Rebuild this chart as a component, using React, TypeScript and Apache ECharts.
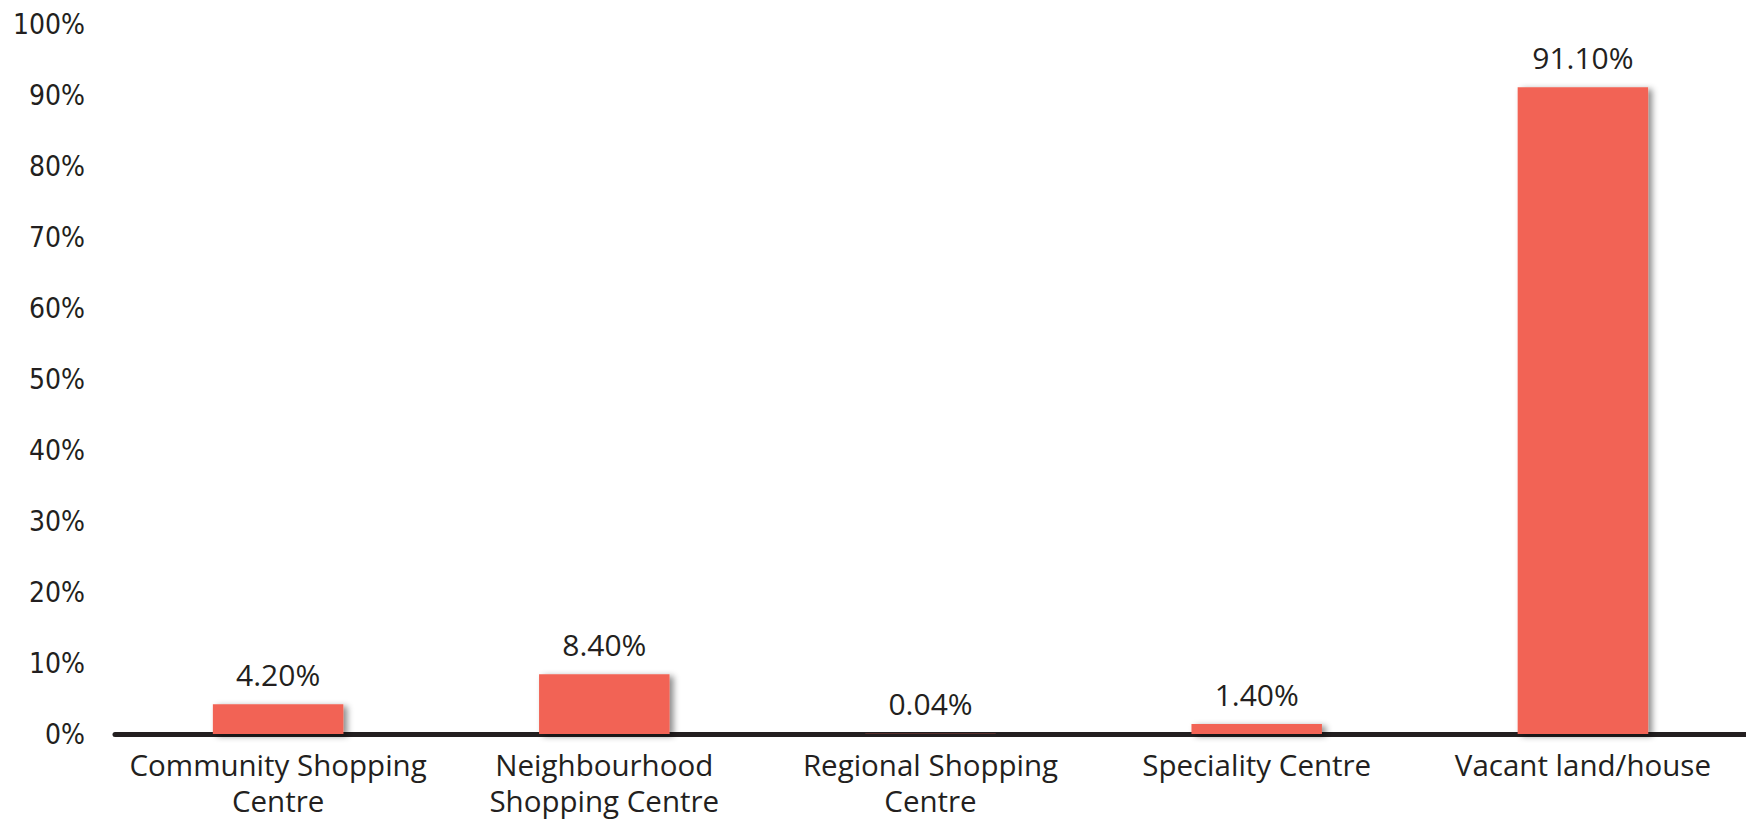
import React, { useEffect, useRef } from "react";
import * as echarts from "echarts";

const categories = [
  "Community Shopping\nCentre",
  "Neighbourhood\nShopping Centre",
  "Regional Shopping\nCentre",
  "Speciality Centre",
  "Vacant land/house",
];
const values = [4.2, 8.4, 0.04, 1.4, 91.1];
const valueLabels = ["4.20%", "8.40%", "0.04%", "1.40%", "91.10%"];

const Y_FONT = "'DejaVu Sans Condensed', sans-serif";
const FONT = "'Open Sans', sans-serif";
const TEXT = "#231f20";

export default function App() {
  const ref = useRef<HTMLDivElement>(null);
  useEffect(() => {
    if (!ref.current) return;
    const chart = echarts.init(ref.current, undefined, { renderer: "svg" });
    chart.setOption({
      animation: false,
      grid: { left: 115, right: 0, top: 24, bottom: 88, containLabel: false },
      xAxis: {
        type: "category",
        data: categories,
        axisLine: { lineStyle: { color: TEXT, width: 5 } },
        axisTick: { show: false },
        axisLabel: {
          color: TEXT,
          fontFamily: FONT,
          fontSize: 29.5,
          lineHeight: 36,
          margin: 12,
          interval: 0,
        },
      },
      yAxis: {
        type: "value",
        min: 0,
        max: 100,
        interval: 10,
        splitLine: { show: false },
        axisLine: { show: false },
        axisTick: { show: false },
        axisLabel: {
          color: TEXT,
          fontFamily: Y_FONT,
          fontSize: 28,
          margin: 30,
          formatter: (v: number) => `${v}%`,
        },
      },
      series: [
        {
          type: "bar",
          data: values,
          barWidth: "40%",
          itemStyle: {
            color: "#f26454",
            shadowColor: "rgba(0,0,0,0.45)",
            shadowBlur: 6,
            shadowOffsetX: 4,
            shadowOffsetY: 2,
          },
          label: {
            show: true,
            position: "top",
            distance: 15,
            color: TEXT,
            fontFamily: FONT,
            fontSize: 30,
            formatter: (p: any) => valueLabels[p.dataIndex],
          },
        },
      ],
    });
    return () => chart.dispose();
  }, []);
  return (
    <div
      ref={ref}
      style={{ position: "absolute", left: 0, top: 0, width: 1746, height: 822 }}
    />
  );
}
